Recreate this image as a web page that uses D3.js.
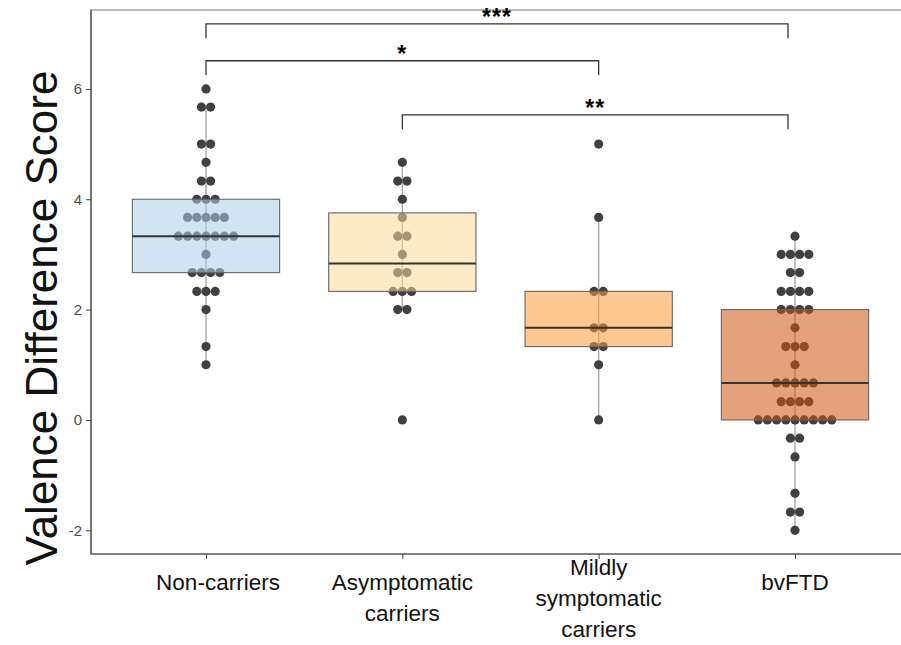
<!DOCTYPE html>
<html>
<head>
<meta charset="utf-8">
<script src="https://cdn.jsdelivr.net/npm/d3@7"></script>
<style>
  body { margin: 0; background: #fff; }
  text { font-family: "Liberation Sans", Arial, sans-serif; }
</style>
</head>
<body>
<svg id="chart"></svg>
<script>
// groups and their raw scores (dot plot values)
var groups = ["Non-carriers", "Asymptomatic carriers", "Mildly symptomatic carriers", "bvFTD"];
var groupLabels = [["Non-carriers"], ["Asymptomatic", "carriers"], ["Mildly", "symptomatic", "carriers"], ["bvFTD"]];
var fills = ["#a9cee7", "#fbdb9b", "#fb9b37", "#ce5611"];

var nonCarriers = [1, 1.33, 2, 2.33, 2.33, 2.33, 2.67, 2.67, 2.67, 2.67, 3,
  3.33, 3.33, 3.33, 3.33, 3.33, 3.33, 3.33, 3.67, 3.67, 3.67, 3.67, 3.67,
  4, 4, 4, 4.33, 4.33, 4.67, 5, 5, 5.67, 5.67, 6];
var asymptomatic = [0, 2, 2, 2.33, 2.33, 2.33, 2.67, 2.67, 3, 3.33, 3.33,
  3.67, 4, 4.33, 4.33, 4.67];
var mildly = [0, 1, 1.33, 1.33, 1.67, 1.67, 2.33, 2.33, 3.67, 5];
var bvftd = [-2, -1.67, -1.67, -1.33, -0.67, -0.33, -0.33,
  0, 0, 0, 0, 0, 0, 0, 0, 0, 0.33, 0.33, 0.33, 0.33,
  0.67, 0.67, 0.67, 0.67, 0.67, 1, 1.33, 1.33, 1.33, 1.67,
  2, 2, 2, 2, 2.33, 2.33, 2.33, 2.33, 2.67, 2.67, 3, 3, 3, 3, 3.33];
var groupValues = [nonCarriers, asymptomatic, mildly, bvftd];

var yTicks = [-2, 0, 2, 4, 6];

// significance brackets: [from group, to group, bracket height, label]
var comparisons = [
  [0, 3, 7.18, "***"],
  [0, 2, 6.51, "*"],
  [1, 3, 5.53, "**"]
];

var width = 901, height = 645;
var svg = d3.select("#chart").attr("width", width).attr("height", height);

var panel = { left: 91, top: 10, right: 913, bottom: 554 };

var y = d3.scaleLinear().domain([-2.43, 7.43]).range([panel.bottom, panel.top]);
var x = d3.scalePoint().domain(groups).range([206, 795]);
var step = x.step();
var boxW = step * 0.75;
var dotD = 9.2;

// panel border
svg.append("rect")
  .attr("x", panel.left).attr("y", panel.top)
  .attr("width", panel.right - panel.left).attr("height", panel.bottom - panel.top)
  .attr("fill", "none").attr("stroke", "#bdbdbd").attr("stroke-width", 2);

// boxplot stats
function stats(vals) {
  var s = vals.slice().sort(d3.ascending);
  var q1 = d3.quantile(s, 0.25), med = d3.quantile(s, 0.5), q3 = d3.quantile(s, 0.75);
  var iqr = q3 - q1;
  var lo = d3.min(s.filter(function (v) { return v >= q1 - 1.5 * iqr; }));
  var hi = d3.max(s.filter(function (v) { return v <= q3 + 1.5 * iqr; }));
  return { q1: q1, med: med, q3: q3, lo: lo, hi: hi };
}

var gPlot = svg.append("g");

groups.forEach(function (g, i) {
  var cx = x(g);
  var st = stats(groupValues[i]);

  // whisker line
  gPlot.append("line")
    .attr("x1", cx).attr("x2", cx)
    .attr("y1", y(st.lo)).attr("y2", y(st.hi))
    .attr("stroke", "#a8a8a8").attr("stroke-width", 1.4);

  // stacked dots, centred
  var bins = d3.rollups(groupValues[i], function (v) { return v.length; }, function (v) { return v; });
  bins.forEach(function (b) {
    var n = b[1];
    for (var k = 0; k < n; k++) {
      gPlot.append("circle")
        .attr("cx", cx + (k - (n - 1) / 2) * dotD)
        .attr("cy", y(b[0]))
        .attr("r", dotD / 2)
        .attr("fill", "#404040");
    }
  });

  // box on top, semi transparent
  gPlot.append("rect")
    .attr("x", cx - boxW / 2).attr("width", boxW)
    .attr("y", y(st.q3)).attr("height", y(st.q1) - y(st.q3))
    .attr("fill", fills[i]).attr("fill-opacity", 0.55)
    .attr("stroke", "#666").attr("stroke-width", 1.1);

  gPlot.append("line")
    .attr("x1", cx - boxW / 2).attr("x2", cx + boxW / 2)
    .attr("y1", y(st.med)).attr("y2", y(st.med))
    .attr("stroke", "#333").attr("stroke-width", 2);
});

// brackets
var gSig = svg.append("g");
comparisons.forEach(function (c) {
  var x1 = x(groups[c[0]]), x2 = x(groups[c[1]]) - (c[1] === 3 ? 7 : 0);
  var yy = y(c[2]), yd = y(c[2] - 0.26);
  gSig.append("path")
    .attr("d", "M" + x1 + "," + yd + "V" + yy + "H" + x2 + "V" + yd)
    .attr("fill", "none").attr("stroke", "#333").attr("stroke-width", 1.3);
  gSig.append("text")
    .attr("x", (x1 + x2) / 2).attr("y", yy + 1)
    .attr("text-anchor", "middle")
    .style("font-size", "23px").style("font-weight", "bold")
    .style("letter-spacing", "1px")
    .text(c[3]);
});

// axes
var yAxis = svg.append("g")
  .attr("transform", "translate(" + panel.left + ",0)")
  .call(d3.axisLeft(y).tickValues(yTicks).tickSize(5).tickPadding(4)
    .tickFormat(function (d) { return String(d); }));
yAxis.select(".domain").remove();
yAxis.selectAll(".tick line").attr("stroke", "#444");
yAxis.selectAll(".tick text").attr("fill", "#4d4d4d").style("font-size", "15px");

var xAxis = svg.append("g")
  .attr("transform", "translate(0," + panel.bottom + ")")
  .call(d3.axisBottom(x).tickSize(5).tickFormat(""));
xAxis.select(".domain").remove();
xAxis.selectAll(".tick line").attr("stroke", "#444");

svg.append("line")
  .attr("x1", panel.left).attr("x2", panel.left)
  .attr("y1", panel.top).attr("y2", panel.bottom)
  .attr("stroke", "#444").attr("stroke-width", 1.2);
svg.append("line")
  .attr("x1", panel.left).attr("x2", width)
  .attr("y1", panel.bottom).attr("y2", panel.bottom)
  .attr("stroke", "#444").attr("stroke-width", 1.2);

// x category labels
groups.forEach(function (g, i) {
  var lx = x(g) + (i === 0 ? 12 : 0);
  var t = svg.append("text")
    .attr("x", lx).attr("y", 590)
    .attr("text-anchor", "middle")
    .style("font-size", "22.5px").attr("fill", "#111");
  var lines = groupLabels[i];
  var start = lines.length === 3 ? -15 : 0;
  lines.forEach(function (l, k) {
    t.append("tspan").attr("x", lx)
      .attr("y", 590 + start + k * 31).text(l);
  });
});

// y title
svg.append("text")
  .attr("transform", "translate(57," + 318 + ") rotate(-90)")
  .attr("text-anchor", "middle")
  .style("font-size", "44px").attr("fill", "#111")
  .text("Valence Difference Score");
</script>
</body>
</html>
